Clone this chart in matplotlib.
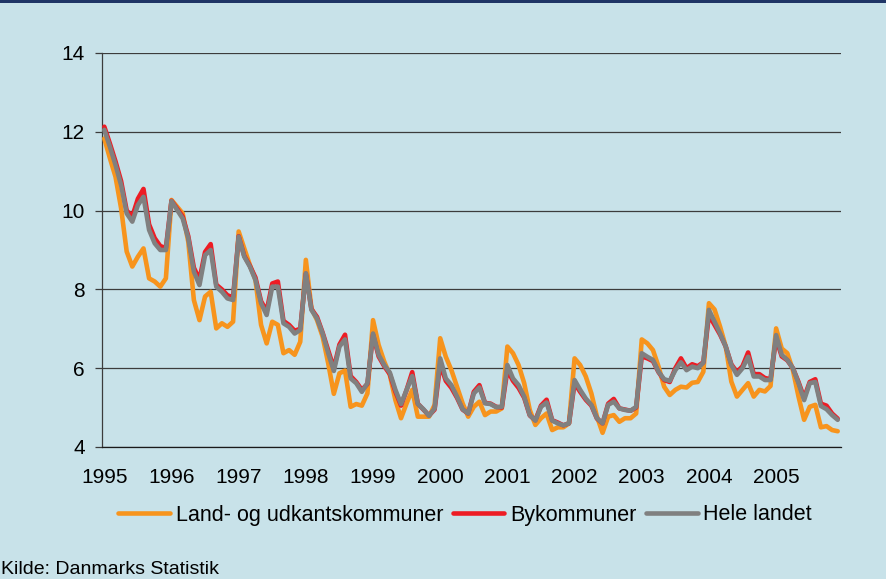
import matplotlib
matplotlib.use("Agg")
import matplotlib.pyplot as plt
import numpy as np
from matplotlib.patches import Rectangle

plt.rcParams["font.family"] = ["Liberation Sans", "DejaVu Sans"]

# monthly values 1995-2005, one row per year
land = [
    11.83, 11.33, 10.86, 10.06, 8.96, 8.58, 8.83, 9.04, 8.28, 8.20, 8.07, 8.28,
    10.27, 10.10, 9.93, 9.21, 7.73, 7.22, 7.82, 7.94, 7.01, 7.14, 7.05, 7.18,
    9.47, 9.04, 8.62, 8.24, 7.10, 6.63, 7.18, 7.10, 6.38, 6.46, 6.34, 6.67,
    8.75, 7.52, 7.22, 6.80, 6.12, 5.35, 5.87, 5.94, 5.02, 5.09, 5.05, 5.36,
    7.22, 6.59, 6.17, 5.83, 5.19, 4.73, 5.11, 5.45, 4.77, 4.77, 4.77, 5.07,
    6.76, 6.29, 5.95, 5.53, 5.11, 4.77, 5.02, 5.15, 4.81, 4.90, 4.90, 4.98,
    6.55, 6.38, 6.08, 5.62, 4.94, 4.56, 4.73, 4.85, 4.43, 4.50, 4.50, 4.60,
    6.25, 6.08, 5.79, 5.36, 4.77, 4.36, 4.77, 4.81, 4.64, 4.73, 4.73, 4.85,
    6.73, 6.63, 6.46, 6.04, 5.53, 5.32, 5.45, 5.53, 5.51, 5.63, 5.65, 5.91,
    7.65, 7.49, 7.05, 6.55, 5.66, 5.28, 5.45, 5.62, 5.28, 5.45, 5.41, 5.55,
    7.01, 6.50, 6.38, 5.95, 5.28, 4.69, 5.02, 5.07, 4.50, 4.53, 4.43, 4.40,
]
by = [
    12.13, 11.70, 11.25, 10.75, 10.00, 9.85, 10.30, 10.55, 9.65, 9.30, 9.10, 9.05,
    10.25, 10.05, 9.85, 9.35, 8.55, 8.25, 8.95, 9.15, 8.12, 8.00, 7.85, 7.80,
    9.35, 8.85, 8.60, 8.30, 7.70, 7.45, 8.15, 8.20, 7.20, 7.10, 6.95, 7.00,
    8.40, 7.50, 7.30, 6.90, 6.45, 6.00, 6.60, 6.85, 5.80, 5.65, 5.45, 5.60,
    6.85, 6.30, 6.05, 5.85, 5.40, 5.05, 5.45, 5.90, 5.10, 4.95, 4.80, 4.95,
    6.10, 5.68, 5.50, 5.25, 4.95, 4.85, 5.40, 5.57, 5.12, 5.10, 5.02, 5.00,
    5.95, 5.68, 5.50, 5.25, 4.80, 4.68, 5.05, 5.20, 4.68, 4.62, 4.55, 4.60,
    5.62, 5.40, 5.20, 5.05, 4.72, 4.60, 5.10, 5.22, 4.98, 4.95, 4.92, 5.00,
    6.30, 6.25, 6.18, 5.90, 5.70, 5.65, 6.00, 6.25, 6.00, 6.10, 6.05, 6.15,
    7.35, 7.10, 6.85, 6.55, 6.10, 5.90, 6.05, 6.40, 5.85, 5.85, 5.75, 5.72,
    6.75, 6.30, 6.20, 6.00, 5.65, 5.25, 5.65, 5.72, 5.10, 5.05, 4.85, 4.72,
]
hele = [
    12.05, 11.62, 11.16, 10.65, 9.93, 9.72, 10.14, 10.35, 9.51, 9.17, 9.00, 9.00,
    10.24, 10.02, 9.80, 9.30, 8.45, 8.11, 8.87, 9.00, 8.07, 7.94, 7.77, 7.73,
    9.34, 8.83, 8.58, 8.24, 7.65, 7.35, 8.07, 8.07, 7.14, 7.05, 6.88, 6.97,
    8.41, 7.48, 7.26, 6.88, 6.38, 5.93, 6.55, 6.73, 5.74, 5.62, 5.40, 5.62,
    6.88, 6.34, 6.08, 5.89, 5.45, 5.09, 5.45, 5.80, 5.09, 4.96, 4.79, 4.98,
    6.25, 5.74, 5.57, 5.28, 4.96, 4.85, 5.36, 5.51, 5.11, 5.09, 5.01, 5.02,
    6.08, 5.74, 5.57, 5.28, 4.81, 4.67, 5.02, 5.13, 4.67, 4.60, 4.55, 4.60,
    5.70, 5.45, 5.23, 5.07, 4.73, 4.60, 5.07, 5.15, 4.98, 4.94, 4.92, 5.02,
    6.38, 6.29, 6.21, 5.91, 5.72, 5.68, 5.95, 6.15, 5.95, 6.04, 6.00, 6.14,
    7.48, 7.18, 6.88, 6.55, 6.08, 5.83, 6.00, 6.29, 5.79, 5.79, 5.70, 5.70,
    6.84, 6.34, 6.21, 6.00, 5.62, 5.19, 5.62, 5.65, 5.04, 4.96, 4.81, 4.69,
]
years = [str(y) for y in range(1995, 2006)]
labels = ["Land- og udkantskommuner", "Bykommuner", "Hele landet"]
colors = ["#f7941d", "#ed1c24", "#808080"]

bg = "#c8e2e9"
fig = plt.figure(figsize=(8.86, 5.79), dpi=100, facecolor=bg)
ax = fig.add_axes([101.5 / 886, 1 - 447 / 579, 739 / 886, 394 / 579])
ax.set_facecolor(bg)

# dark strip along the top edge
fig.patches.append(Rectangle((0, 1 - 3 / 579), 1, 3 / 579, transform=fig.transFigure,
                             facecolor="#1f3566", edgecolor="none"))

x = np.arange(len(hele))
for i, (ser, lab, col) in enumerate(zip([land, by, hele], labels, colors)):
    ax.plot(x, ser, color=col, lw=3.3, label=lab, zorder=3 + i,
            solid_joinstyle="round", solid_capstyle="round")

ax.set_xlim(-0.5, 131.5)
ax.set_ylim(4, 14)
ax.set_yticks(range(4, 15, 2))
ax.set_xticks(np.arange(0, 132, 12))
ax.set_xticklabels(years)
ax.grid(axis="y", color="#3c3c3c", lw=0.9)
ax.set_axisbelow(True)
for s in ["top", "right"]:
    ax.spines[s].set_visible(False)
ax.spines["left"].set_color("#3c3c3c")
ax.spines["bottom"].set_color("#1a1a1a")
ax.spines["left"].set_linewidth(0.9)
ax.spines["bottom"].set_linewidth(0.9)
ax.tick_params(axis="y", length=5, width=0.9, color="#3c3c3c", pad=7, labelsize=15)
ax.tick_params(axis="x", length=0, pad=15, labelsize=15)

fig.legend(loc="center", bbox_to_anchor=(465 / 886, 1 - 515 / 579), ncol=3,
           frameon=False, fontsize=15.5, handlelength=2.4, handletextpad=0.25,
           columnspacing=0.45)

fig.text(1 / 886, 1 - 570 / 579, "Kilde: Danmarks Statistik", fontsize=14,
         va="center", ha="left")

fig.savefig("out.png", dpi=100, facecolor=bg)
